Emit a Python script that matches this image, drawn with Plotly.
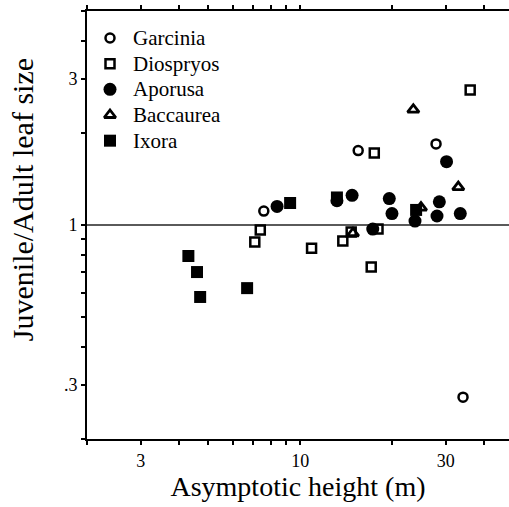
import plotly.graph_objects as go

# Data (asymptotic height in m, juvenile/adult leaf size ratio)
garcinia_x = [7.6, 15.5, 27.9, 34.2]
garcinia_y = [1.11, 1.75, 1.84, 0.274]

diospryos_x = [36.1, 17.5, 7.4, 7.1, 10.9, 13.8, 14.7, 18.0, 17.1]
diospryos_y = [2.76, 1.72, 0.963, 0.88, 0.84, 0.887, 0.949, 0.97, 0.729]

aporusa_x = [8.4, 14.8, 13.2, 17.3, 19.6, 20.0, 23.8, 28.6, 28.1, 33.5, 30.2]
aporusa_y = [1.15, 1.25, 1.20, 0.97, 1.22, 1.09, 1.03, 1.19, 1.07, 1.09, 1.61]

baccaurea_x = [23.5, 33.0, 14.9, 24.9]
baccaurea_y = [2.38, 1.33, 0.94, 1.14]

ixora_x = [9.27, 13.2, 4.30, 4.59, 4.70, 6.70, 24.0]
ixora_y = [1.18, 1.23, 0.792, 0.702, 0.582, 0.622, 1.12]

x_tickvals = [2, 3, 4, 5, 6, 7, 8, 9, 10, 20, 30, 40]
x_ticktext = ["", "3", "", "", "", "", "", "", "10", "", "30", ""]
y_tickvals = [0.2, 0.3, 0.4, 0.5, 0.6, 0.7, 0.8, 0.9, 1, 2, 3, 4, 5]
y_ticktext = ["", ".3", "", "", "", "", "", "", "1", "", "3", "", ""]

ref_x = [2, 48.4]
ref_y = [1, 1]

FONT = "Liberation Serif, Times New Roman, serif"

series = [
    dict(name="Garcinia", x=garcinia_x, y=garcinia_y,
         marker=dict(symbol="circle-open", size=9, color="black",
                     line=dict(width=2.5, color="black"))),
    dict(name="Diospryos", x=diospryos_x, y=diospryos_y,
         marker=dict(symbol="square-open", size=9, color="black",
                     line=dict(width=2.5, color="black"))),
    dict(name="Aporusa", x=aporusa_x, y=aporusa_y,
         marker=dict(symbol="circle", size=13, color="black", line=dict(width=0))),
    dict(name="Baccaurea", x=baccaurea_x, y=baccaurea_y,
         marker=dict(symbol="triangle-up-open", size=10, color="black",
                     line=dict(width=2.8, color="black"))),
    dict(name="Ixora", x=ixora_x, y=ixora_y,
         marker=dict(symbol="square", size=12, color="black", line=dict(width=0))),
]

fig = go.Figure()

# reference line at ratio 1
fig.add_trace(go.Scatter(x=ref_x, y=ref_y, mode="lines",
                         line=dict(color="#5a5a5a", width=2),
                         showlegend=False, hoverinfo="skip"))

for s in series:
    fig.add_trace(go.Scatter(x=s["x"], y=s["y"], mode="markers", name=s["name"],
                             marker=s["marker"], showlegend=False))

# hand-built legend (marker on an overlay axis spanning the plot area, text as annotation)
leg_marker_x = 0.0545
leg_text_x = 0.104
leg_top = 0.937
leg_step = 0.0600
for i, s in enumerate(series):
    yy = leg_top - i * leg_step
    fig.add_trace(go.Scatter(x=[leg_marker_x], y=[yy], xaxis="x2", yaxis="y2",
                             mode="markers", marker=s["marker"],
                             showlegend=False, hoverinfo="skip"))
    fig.add_annotation(x=leg_text_x, y=yy, xref="paper", yref="paper",
                       text=s["name"], showarrow=False, xanchor="left", yanchor="middle",
                       font=dict(family=FONT, size=21, color="black"))

# y-axis title placed as a rotated annotation
fig.add_annotation(x=-0.154, y=0.558, xref="paper", yref="paper",
                   text="Juvenile/Adult leaf size", textangle=-90, showarrow=False,
                   xanchor="center", yanchor="middle",
                   font=dict(family=FONT, size=30, color="black"))

fig.update_layout(
    width=509, height=507,
    margin=dict(l=87, r=0, t=11, b=68),
    paper_bgcolor="white", plot_bgcolor="white",
    font=dict(family=FONT, color="black", size=18),
    showlegend=False,
    xaxis=dict(type="log", range=[0.30103, 1.6848],
               tickmode="array", tickvals=x_tickvals, ticktext=x_ticktext,
               ticks="outside", ticklen=4, tickwidth=1.5, tickcolor="black",
               showline=True, linecolor="black", linewidth=2, mirror="ticks",
               showgrid=False, zeroline=False,
               tickfont=dict(family=FONT, size=18, color="black"),
               title=dict(text="Asymptotic height (m)",
                          font=dict(family=FONT, size=28, color="black"),
                          standoff=4)),
    yaxis=dict(type="log", range=[-0.69897, 0.69897],
               tickmode="array", tickvals=y_tickvals, ticktext=y_ticktext,
               ticks="outside", ticklen=4, tickwidth=1.5, tickcolor="black",
               showline=True, linecolor="black", linewidth=2, mirror=False,
               showgrid=False, zeroline=False,
               tickfont=dict(family=FONT, size=18, color="black")),
    xaxis2=dict(overlaying="x", range=[0, 1], visible=False, fixedrange=True),
    yaxis2=dict(overlaying="y", range=[0, 1], visible=False, fixedrange=True),
)

fig.write_html("out.html")
